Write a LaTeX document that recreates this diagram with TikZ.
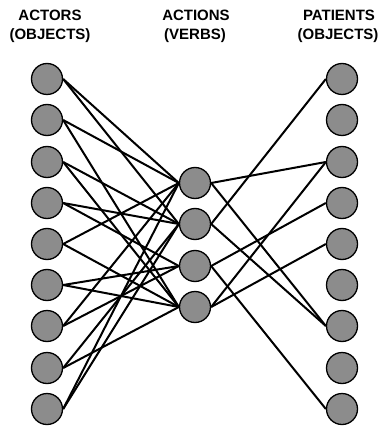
\documentclass[tikz,border=0pt]{standalone}
\usepackage{fontspec}
\setmainfont{Liberation Sans}
\usetikzlibrary{backgrounds}
\begin{document}
\begin{tikzpicture}[x=1pt,y=-1pt,
  unit/.style={circle,draw=black,line width=1.3pt,fill=nodegray,minimum size=31pt,inner sep=0pt},
  lbl/.style={font=\fontsize{15}{16}\selectfont\bfseries,anchor=base,inner sep=0pt},
  link/.style={line width=2pt,black}]
\definecolor{nodegray}{RGB}{140,140,140}
\useasboundingbox (0,0) rectangle (380,427);
% labels
\node[lbl] (t1) at (50,21) {ACTORS};
\node[lbl] (t2) at (50,40) {(OBJECTS)};
\node[lbl] (t3) at (196,21) {ACTIONS};
\node[lbl] (t4) at (195,40) {(VERBS)};
\node[lbl] (t5) at (339,21) {PATIENTS};
\node[lbl] (t6) at (338,40) {(OBJECTS)};
% left and right columns
\foreach \i/\y in {1/79,2/120,3/162,4/203,5/244,6/285,7/326,8/368,9/409}{
  \node[unit] (l\i) at (47,\y) {};
  \node[unit] (r\i) at (342,\y) {};
}
\foreach \i/\y in {1/183,2/224,3/266,4/307}{
  \node[unit] (m\i) at (195,\y) {};
}
\begin{scope}[on background layer]
% left links
\foreach \a/\b in {1/1,1/2,2/1,2/4,3/2,3/4,4/2,4/3,5/1,5/4,6/3,6/4,7/1,7/3,8/2,8/4,9/1,9/2}{
  \draw[link] (l\a.east) -- (m\b.west);
}
% right links
\foreach \a/\b in {1/3,1/7,2/1,2/7,3/4,3/9,4/3,4/5}{
  \draw[link] (m\a.east) -- (r\b.west);
}
\end{scope}
\end{tikzpicture}
\end{document}
